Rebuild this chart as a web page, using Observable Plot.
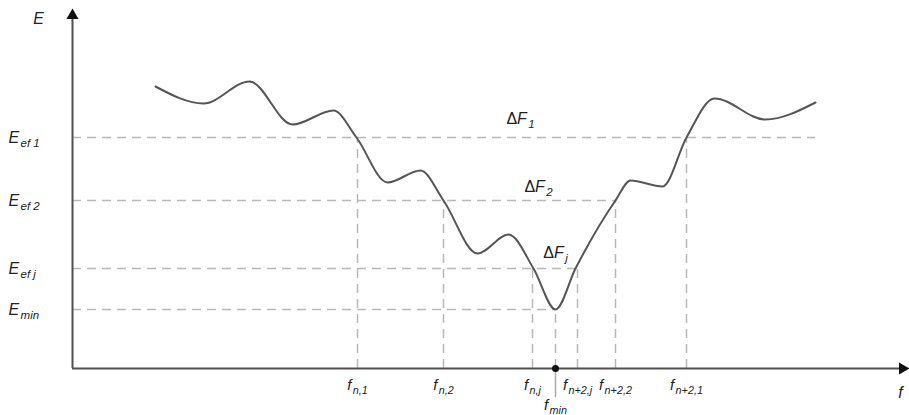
<!DOCTYPE html>
<html>
<head>
<meta charset="utf-8">
<script src="https://cdn.jsdelivr.net/npm/d3@7"></script>
<script src="https://cdn.jsdelivr.net/npm/@observablehq/plot@0.6"></script>
<style>
  html, body { margin: 0; padding: 0; background: #fff; }
  svg { display: block; }
</style>
</head>
<body>
<div id="chart"></div>
<script>
// Energy curve E(f), arbitrary units (origin at the axes crossing): extrema and crossings
const curveF = [83,131,177,220,261,284,315,348,371,405,436,461,483,503,543,558,590,614,642,693,743];
const curveE = [282,265,287,244,258,231,186,198,168,115,134,100,59,100,168,188,182,231,270,249,266];

// Energy levels (horizontal dashed lines)
const levelNames = ["E|ef 1", "E|ef 2", "E|ef j", "E|min"];
const levelE = [231, 168, 100, 59];
const levelEnd = [743, 543, 505, 483];

// Frequencies (vertical dashed lines)
const freqNames = ["f|n,1", "f|n,2", "f|n,j", "f|n+2,j", "f|n+2,2", "f|n+2,1"];
const freqF = [285, 371, 460, 505, 543, 614];
const freqE = [231, 168, 100, 100, 168, 231];

const fMinName = "f|min";
const fMin = 483;
const eMin = 59;

// Interval labels
const deltaNames = ["Δ~F|1", "Δ~F|2", "Δ~F|j"];
const deltaF = [448, 466, 483];
const deltaE = [250, 182, 116];

const curve = curveF.map((f, i) => ({f, E: curveE[i]}));
const levels = levelNames.map((n, i) => ({n, E: levelE[i], end: levelEnd[i]}));
const freqs = freqNames.map((n, i) => ({n, f: freqF[i], E: freqE[i]}));
const deltas = deltaNames.map((n, i) => ({n, f: deltaF[i], E: deltaE[i]}));

const axisColor = "#505050";
const dashColor = "#b8b8b8";
const textColor = "#222";
const font = "'Liberation Sans', Arial, sans-serif";

const plot = Plot.plot({
  width: 909,
  height: 415,
  margin: 0,
  x: {domain: [-72, 837], range: [0, 909], axis: null},
  y: {domain: [-47, 368], range: [415, 0], axis: null},
  style: {fontFamily: font, background: "#fff"},
  marks: [
    Plot.ruleY(levels, {y: "E", x1: 0, x2: "end", stroke: dashColor, strokeWidth: 1.5, strokeDasharray: "9,6"}),
    Plot.ruleX(freqs, {x: "f", y1: 0, y2: "E", stroke: dashColor, strokeWidth: 1.5, strokeDasharray: "9,6"}),
    Plot.ruleX([fMin], {x: d => d, y1: 0, y2: eMin, stroke: dashColor, strokeWidth: 1.5, strokeDasharray: "9,6"}),
    Plot.ruleX([fMin], {x: d => d, y1: -29, y2: 0, stroke: "#a8a8a8", strokeWidth: 1.5}),
    Plot.line(curve, {x: "f", y: "E", curve: "monotone-x", stroke: "#555", strokeWidth: 2}),
    Plot.ruleY([0], {x1: 0, x2: 828, stroke: axisColor, strokeWidth: 2}),
    Plot.ruleX([0], {y1: 0, y2: 350, stroke: axisColor, strokeWidth: 2}),
    Plot.dot([{f: 0, E: 353}], {x: "f", y: "E", symbol: "triangle", r: 4.5, fill: "#111", stroke: "none"}),
    Plot.dot([{f: 830, E: 0}], {x: "f", y: "E", symbol: "triangle", r: 4.5, rotate: 90, fill: "#111", stroke: "none"}),
    Plot.dot([{f: fMin, E: 0}], {x: "f", y: "E", r: 3.5, fill: "#111", stroke: "none"}),
    Plot.text(["E"], {x: -34, y: 350, text: d => d, fontSize: 16, fontStyle: "italic", fill: textColor}),
    Plot.text(["f"], {x: 828, y: -24, text: d => d, fontSize: 16, fontStyle: "italic", fill: textColor}),
    Plot.text(levels, {x: -64, y: "E", text: "n", textAnchor: "start", fontSize: 16, fontStyle: "italic", fill: textColor}),
    Plot.text(freqs, {x: "f", y: -17, text: "n", fontSize: 15, fontStyle: "italic", fill: textColor}),
    Plot.text([fMinName], {x: fMin, y: -37, text: d => d, fontSize: 15, fontStyle: "italic", fill: textColor}),
    Plot.text(deltas, {x: "f", y: "E", text: "n", fontSize: 16, fontStyle: "italic", fill: textColor})
  ]
});

// turn "[upright~]main|sub" strings into text with a subscript
d3.select(plot).selectAll("text").each(function() {
  let t = this.textContent;
  if (!t.includes("|")) return;
  const sel = d3.select(this);
  sel.selectAll("*").remove();
  this.textContent = "";
  if (t.includes("~")) {
    const [up, rest] = t.split("~");
    sel.append("tspan").attr("font-style", "normal").text(up);
    t = rest;
  }
  const [main, sub] = t.split("|");
  sel.append("tspan").text(main);
  sel.append("tspan").attr("font-size", "0.72em").attr("dy", "0.35em").attr("dx", "0.12em").text(sub);
});

document.getElementById("chart").appendChild(plot);
</script>
</body>
</html>
